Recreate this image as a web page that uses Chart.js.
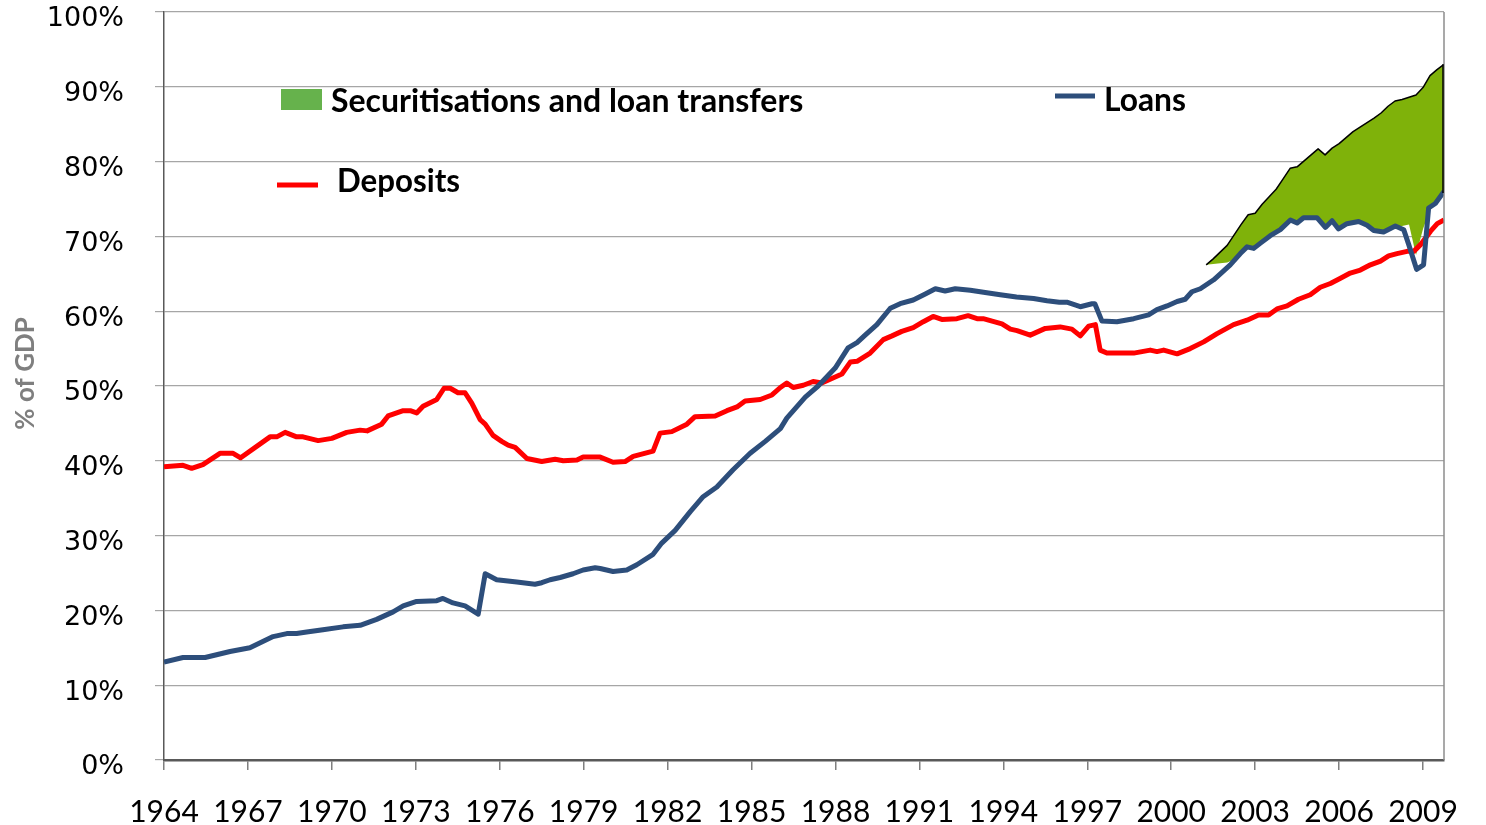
<!DOCTYPE html>
<html>
<head>
<meta charset="utf-8">
<script src="https://cdn.jsdelivr.net/npm/chart.js@4.4.1/dist/chart.umd.min.js"></script>
<style>
  html, body { margin: 0; padding: 0; background: #fff; }
  #wrap { width: 1486px; height: 825px; position: relative; }
</style>
</head>
<body>
<div id="wrap"><canvas id="c"></canvas></div>
<script>
// x axis ticks / y axis ticks
const xTickYears = [1964, 1967, 1970, 1973, 1976, 1979, 1982, 1985, 1988, 1991, 1994, 1997, 2000, 2003, 2006, 2009]
const yTickValues = [0, 10, 20, 30, 40, 50, 60, 70, 80, 90, 100]

// deposits, % of GDP
const depYears = [1964.0, 1964.68, 1964.99, 1965.39, 1966.0, 1966.47, 1966.74, 1967.79, 1968.03, 1968.33, 1968.74, 1968.97,
  1969.51, 1970.0, 1970.53, 1971.01, 1971.26, 1971.78, 1972.01, 1972.55, 1972.8, 1973.03, 1973.26, 1973.75, 1974.01,
  1974.23, 1974.51, 1974.76, 1975.0, 1975.3, 1975.48, 1975.76, 1976.07, 1976.3, 1976.55, 1976.97, 1977.5, 1977.98,
  1978.27, 1978.76, 1978.98, 1979.59, 1980.05, 1980.48, 1980.77, 1981.48, 1981.73, 1982.15, 1982.69, 1982.98, 1983.7,
  1984.12, 1984.48, 1984.77, 1985.31, 1985.73, 1986.03, 1986.26, 1986.49, 1986.85, 1987.2, 1987.51, 1987.87, 1988.23,
  1988.53, 1988.77, 1989.24, 1989.71, 1990.02, 1990.37, 1990.78, 1991.14, 1991.49, 1991.8, 1992.34, 1992.74, 1993.06,
  1993.28, 1993.95, 1994.25, 1994.49, 1994.96, 1995.5, 1996.03, 1996.45, 1996.75, 1997.05, 1997.29, 1997.46, 1997.7,
  1998.66, 1999.25, 1999.49, 1999.73, 2000.21, 2000.68, 2001.16, 2001.64, 2002.23, 2002.71, 2003.12, 2003.48, 2003.78,
  2004.14, 2004.55, 2004.97, 2005.33, 2005.69, 2006.05, 2006.4, 2006.76, 2007.12, 2007.48, 2007.77, 2008.07, 2008.43,
  2008.67, 2008.91, 2009.27, 2009.51, 2009.75]
const depValues = [39.2, 39.4, 39.0, 39.5, 41.0, 41.0, 40.4, 43.2, 43.2, 43.8, 43.2, 43.2,
  42.7, 43.0, 43.8, 44.1, 44.0, 44.9, 46.0, 46.7, 46.7, 46.4, 47.3, 48.2, 49.7,
  49.7, 49.1, 49.1, 47.7, 45.5, 44.9, 43.4, 42.6, 42.1, 41.8, 40.3, 39.9, 40.2,
  40.0, 40.1, 40.5, 40.5, 39.8, 39.9, 40.6, 41.3, 43.7, 43.9, 44.9, 45.9, 46.0,
  46.7, 47.2, 48.0, 48.2, 48.8, 49.8, 50.4, 49.8, 50.1, 50.6, 50.4, 51.0, 51.6,
  53.2, 53.3, 54.4, 56.2, 56.7, 57.3, 57.8, 58.6, 59.3, 58.9, 59.0, 59.4, 59.0,
  59.0, 58.3, 57.6, 57.4, 56.8, 57.7, 57.9, 57.6, 56.7, 58.0, 58.2, 54.8, 54.4,
  54.4, 54.8, 54.6, 54.8, 54.3, 55.0, 55.9, 57.0, 58.2, 58.8, 59.5, 59.5, 60.3,
  60.7, 61.6, 62.2, 63.2, 63.7, 64.4, 65.1, 65.5, 66.2, 66.7, 67.4, 67.7, 68.0,
  68.0, 68.9, 70.7, 71.7, 72.2]

// loans, % of GDP
const loanYears = [1964.0, 1964.68, 1965.47, 1966.36, 1967.07, 1967.9, 1968.39, 1968.74, 1969.1, 1969.68, 1970.4, 1971.01,
  1971.6, 1972.19, 1972.55, 1973.03, 1973.75, 1973.97, 1974.33, 1974.76, 1975.23, 1975.48, 1975.89, 1976.61, 1977.26,
  1977.5, 1977.8, 1978.16, 1978.62, 1978.98, 1979.41, 1979.59, 1980.05, 1980.54, 1980.9, 1981.48, 1981.79, 1982.27,
  1982.81, 1983.27, 1983.76, 1984.34, 1984.95, 1985.49, 1986.03, 1986.26, 1986.92, 1987.38, 1987.99, 1988.45, 1988.77,
  1989.06, 1989.48, 1989.96, 1990.31, 1990.78, 1991.21, 1991.57, 1991.92, 1992.28, 1992.82, 1993.35, 1993.89, 1994.47,
  1995.08, 1995.56, 1996.0, 1996.27, 1996.75, 1997.17, 1997.27, 1997.52, 1998.06, 1998.66, 1999.19, 1999.49, 1999.85,
  2000.21, 2000.5, 2000.74, 2001.04, 2001.52, 2002.11, 2002.47, 2002.71, 2002.95, 2003.19, 2003.54, 2003.9, 2004.26,
  2004.5, 2004.73, 2005.21, 2005.51, 2005.75, 2005.98, 2006.28, 2006.7, 2007.0, 2007.24, 2007.59, 2008.01, 2008.31,
  2008.49, 2008.77, 2009.02, 2009.2, 2009.44, 2009.75]
const loanValues = [13.1, 13.7, 13.7, 14.5, 15.0, 16.5, 16.9, 16.9, 17.1, 17.4, 17.8, 18.0,
  18.8, 19.8, 20.6, 21.2, 21.3, 21.6, 21.0, 20.6, 19.5, 24.9, 24.1, 23.8, 23.5,
  23.7, 24.1, 24.4, 24.9, 25.4, 25.7, 25.6, 25.2, 25.4, 26.1, 27.5, 29.0, 30.7,
  33.2, 35.2, 36.5, 38.8, 41.0, 42.6, 44.3, 45.7, 48.5, 50.0, 52.4, 55.1, 55.8,
  56.8, 58.2, 60.4, 61.0, 61.5, 62.3, 63.0, 62.7, 63.0, 62.8, 62.5, 62.2, 61.9,
  61.7, 61.4, 61.2, 61.2, 60.6, 61.0, 61.0, 58.7, 58.6, 59.0, 59.5, 60.2, 60.7,
  61.3, 61.6, 62.6, 63.0, 64.2, 66.2, 67.7, 68.6, 68.4, 69.1, 70.1, 70.9, 72.2,
  71.8, 72.5, 72.5, 71.2, 72.1, 71.0, 71.7, 72.0, 71.5, 70.8, 70.6, 71.4, 70.9,
  68.9, 65.6, 66.2, 73.8, 74.4, 76.0]

// securitisations and loan transfers: upper edge and lower edge of the band
const secYears = [2001.25, 2001.5, 2001.75, 2002.0, 2002.25, 2002.5, 2002.75, 2003.0, 2003.25, 2003.5, 2003.75,
  2004.0, 2004.25, 2004.5, 2004.75, 2005.0, 2005.25, 2005.5, 2005.75, 2006.0, 2006.25, 2006.5, 2006.75,
  2007.0, 2007.25, 2007.5, 2007.75, 2008.0, 2008.25, 2008.5, 2008.75, 2009.0, 2009.25, 2009.5, 2009.75]
const secTop = [66.2, 67.0, 67.9, 68.8, 70.2, 71.6, 72.9, 73.1, 74.3, 75.3, 76.3,
  77.7, 79.1, 79.3, 80.1, 80.9, 81.7, 80.9, 81.8, 82.4, 83.2, 84.0, 84.6,
  85.2, 85.8, 86.5, 87.4, 88.1, 88.3, 88.6, 88.9, 89.9, 91.5, 92.3, 93.0]
const secBase = [66.2, 66.3, 66.4, 66.5, 66.9, 67.8, 68.5, 68.4, 69.2, 69.9, 70.5,
  71.2, 72.0, 71.7, 72.3, 72.3, 72.2, 71.0, 71.9, 70.8, 71.4, 71.7, 71.8,
  71.3, 70.6, 70.4, 70.7, 71.2, 71.4, 71.6, 67.5, 71.0, 73.6, 74.4, 75.8]

const pts = (xs, ys) => xs.map((x, i) => ({ x: x, y: ys[i] }))

const RED = '#ff0000'
const BLUE = '#2d4e7b'
const GREEN = '#7fb20a'
const GREEN_KEY = '#66b24c'

// legend drawn by hand, the layout of the original is free-floating
const keyPlugin = {
  id: 'key',
  afterDraw(chart) {
    const ctx = chart.ctx
    const area = chart.chartArea
    const sx = chart.scales.x
    const sy = chart.scales.y
    ctx.save()
    // right border of the plot
    ctx.strokeStyle = '#8c8c8c'
    ctx.lineWidth = 1.5
    ctx.beginPath()
    ctx.moveTo(area.right, area.top)
    ctx.lineTo(area.right, area.bottom)
    ctx.stroke()

    // closing edge of the green band
    const n = secYears.length - 1
    const ex = sx.getPixelForValue(secYears[n]) - 1
    ctx.strokeStyle = '#000'
    ctx.lineWidth = 1.5
    ctx.beginPath()
    ctx.moveTo(ex, sy.getPixelForValue(secTop[n]))
    ctx.lineTo(ex, sy.getPixelForValue(secBase[n]))
    ctx.stroke()

    ctx.font = 'bold 32px Lato'
    ctx.textBaseline = 'alphabetic'
    ctx.textAlign = 'left'

    ctx.fillStyle = GREEN_KEY
    ctx.fillRect(281, 89, 41, 21)
    ctx.fillStyle = '#000'
    ctx.fillText('Securitisations and loan transfers', 331, 112, 477)

    ctx.strokeStyle = BLUE
    ctx.lineWidth = 5
    ctx.beginPath()
    ctx.moveTo(1055, 96)
    ctx.lineTo(1095, 96)
    ctx.stroke()
    ctx.fillText('Loans', 1104, 111, 82)

    ctx.strokeStyle = RED
    ctx.beginPath()
    ctx.moveTo(277, 185)
    ctx.lineTo(318, 185)
    ctx.stroke()
    ctx.fillText('Deposits', 337, 192, 123)
    ctx.restore()
  }
}

new Chart(document.getElementById('c'), {
  type: 'line',
  data: {
    datasets: [{
      label: 'Loans',
      data: pts(loanYears, loanValues),
      borderColor: BLUE,
      borderWidth: 5,
      fill: false,
    }, {
      label: 'Deposits',
      data: pts(depYears, depValues),
      borderColor: RED,
      borderWidth: 5,
      fill: false,
    }, {
      label: 'Securitisations and loan transfers',
      data: pts(secYears, secTop),
      borderColor: '#000',
      borderWidth: 1.5,
      backgroundColor: GREEN,
      fill: 3,
    }, {
      label: 'base',
      data: pts(secYears, secBase),
      borderWidth: 0,
      borderColor: 'rgba(0,0,0,0)',
      fill: false,
    }]
  },
  options: {
    responsive: true,
    maintainAspectRatio: false,
    animation: false,
    layout: { padding: { left: 0, right: 42, top: 0, bottom: 0 } },
    elements: {
      point: { radius: 0, hoverRadius: 0 },
      line: { tension: 0, borderJoinStyle: 'round', borderCapStyle: 'butt' }
    },
    plugins: {
      legend: { display: false },
      tooltip: { enabled: false }
    },
    scales: {
      x: {
        type: 'linear',
        min: 1964,
        max: 2009.75,
        afterFit: s => { s.height = 65 },
        afterBuildTicks: s => { s.ticks = xTickYears.map(v => ({ value: v })) },
        grid: { drawOnChartArea: false, tickLength: 10, color: '#7f7f7f', lineWidth: 1.5 },
        border: { color: '#595959', width: 2.5 },
        ticks: {
          color: '#000',
          padding: 24,
          maxRotation: 0,
          autoSkip: false,
          font: { family: 'Lato', size: 30 },
          callback: v => String(v)
        }
      },
      y: {
        min: 0,
        max: 100,
        afterFit: s => { s.width = 164; s.paddingTop = 12; s.paddingBottom = 12 },
        afterBuildTicks: s => { s.ticks = yTickValues.map(v => ({ value: v })) },
        grid: { color: '#a6a6a6', lineWidth: 1.2, tickLength: 9 },
        border: { color: '#595959', width: 1.5 },
        ticks: {
          color: '#000',
          padding: 31,
          // empty first line drops each label a few pixels below its tick, as in the original
          font: { family: 'DejaVu Sans', size: 27, lineHeight: 0.55 },
          callback: v => ['', v + '%']
        },
        title: {
          display: true,
          text: '    % of GDP',
          color: '#7f7f7f',
          padding: { top: 10, bottom: 0 },
          font: { family: 'Lato', size: 26, weight: 'bold' }
        }
      }
    }
  },
  plugins: [keyPlugin]
})
</script>
</body>
</html>
